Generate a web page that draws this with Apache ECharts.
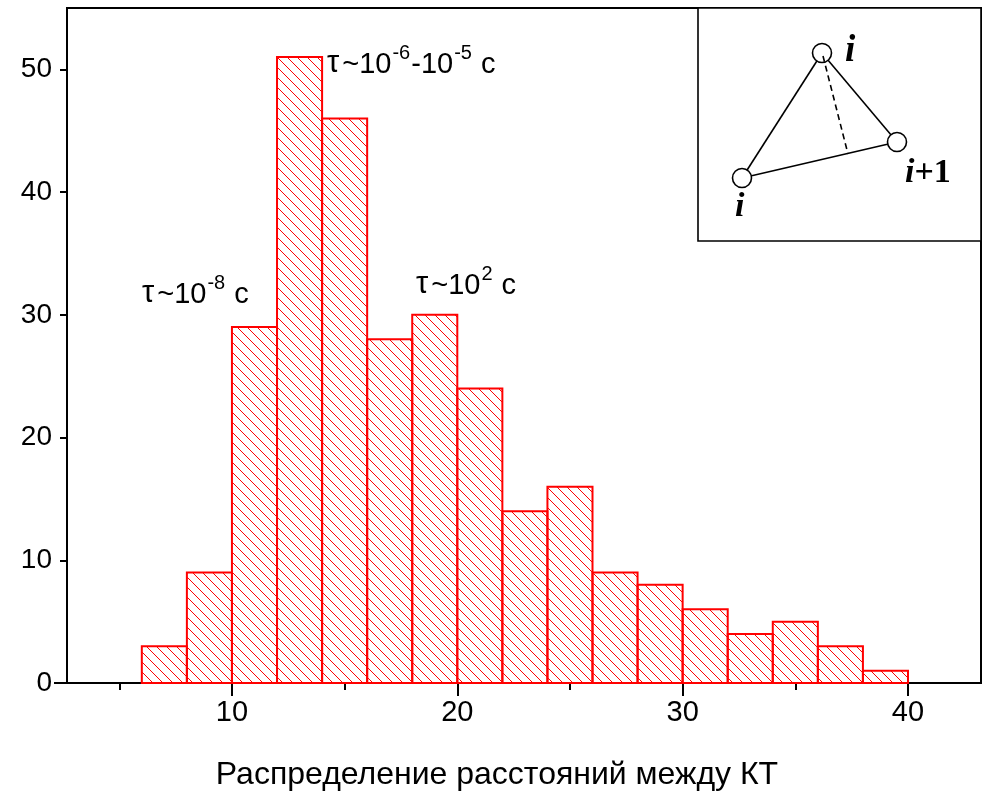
<!DOCTYPE html>
<html>
<head>
<meta charset="utf-8">
<script src="https://cdn.jsdelivr.net/npm/echarts@6/dist/echarts.min.js"></script>
<style>
  html, body { margin: 0; padding: 0; background: #fff; }
  #chart { width: 983px; height: 796px; }
</style>
</head>
<body>
<div id="chart"></div>
<script>
// Histogram bins: lower edge, upper edge, count
const binStarts = [6, 8, 10, 12, 14, 16, 18, 20, 22, 24, 26, 28, 30, 32, 34, 36, 38];
const binEnds   = [8, 10, 12, 14, 16, 18, 20, 22, 24, 26, 28, 30, 32, 34, 36, 38, 40];
const counts    = [3, 9, 29, 51, 46, 28, 30, 24, 14, 16, 9, 8, 6, 4, 5, 3, 1];

const xMajorTicks = [10, 20, 30, 40];
const xMinorTicks = [5, 15, 25, 35];
const yTicks = [0, 10, 20, 30, 40, 50];
const xAxisTitle = 'Распределение расстояний между КТ';

const FONT = '"Liberation Sans", Arial, sans-serif';
const SERIF = '"Liberation Serif", "Times New Roman", serif';
const RED = '#ff0000';

// Diagonal "\" hatch tile used to fill the bars
function makeHatch(step) {
  const c = document.createElement('canvas');
  c.width = step; c.height = step;
  const g = c.getContext('2d');
  g.strokeStyle = RED;
  g.lineWidth = 1;
  for (const off of [-step, 0, step]) {
    g.beginPath();
    g.moveTo(off, 0);
    g.lineTo(off + step, step);
    g.stroke();
  }
  return c;
}
const hatch = { image: makeHatch(10), repeat: 'repeat' };

const binData = binStarts.map((s, i) => [s, binEnds[i], counts[i]]);

const chart = echarts.init(document.getElementById('chart'), null, { renderer: 'canvas' });

const X_MIN = 2.68, X_MAX = 43.24;

const rich = {
  t: { fontFamily: FONT, fontSize: 31, color: '#000', lineHeight: 36, verticalAlign: 'bottom', padding: [0, 3, 0, 0] },
  a: { fontFamily: FONT, fontSize: 29, color: '#000', lineHeight: 36, verticalAlign: 'bottom' },
  s: { fontFamily: FONT, fontSize: 20, color: '#000', lineHeight: 36, verticalAlign: 'top', padding: [0, 1, 15, 1] }
};

function annotation(left, top, text) {
  return { type: 'text', left: left, top: top, z: 10, style: { text: text, rich: rich, fill: '#000' } };
}

const stroke = { stroke: '#000', lineWidth: 1.6, fill: null };
const circleStyle = { fill: '#fff', stroke: '#000', lineWidth: 1.6 };
const italicBig = 'italic bold 37px ' + SERIF;
const labelRich = {
  it: { fontFamily: SERIF, fontStyle: 'italic', fontWeight: 'bold', fontSize: 34, color: '#000' },
  up: { fontFamily: SERIF, fontWeight: 'bold', fontSize: 34, color: '#000' }
};

chart.setOption({
  animation: false,
  backgroundColor: '#fff',
  grid: {
    left: 67, right: 2, top: 8, bottom: 113,
    outerBoundsMode: 'none', containLabel: false,
    show: true, borderColor: '#000', borderWidth: 2, backgroundColor: 'transparent'
  },
  xAxis: [
    {
      type: 'value', min: X_MIN, max: X_MAX,
      axisLine: { show: true, onZero: false, lineStyle: { color: '#000', width: 2 } },
      axisTick: { show: true, inside: false, length: 13, customValues: xMajorTicks, lineStyle: { color: '#000', width: 2 } },
      axisLabel: { show: true, customValues: xMajorTicks, margin: 15, fontFamily: FONT, fontSize: 29, color: '#000' },
      splitLine: { show: false },
      name: xAxisTitle, nameLocation: 'middle', nameGap: 76,
      nameTextStyle: { fontFamily: FONT, fontSize: 32, color: '#000', padding: [0, 54, 0, 0] }
    },
    {
      type: 'value', min: X_MIN, max: X_MAX, position: 'bottom',
      axisLine: { show: false },
      axisTick: { show: true, length: 7, customValues: xMinorTicks, lineStyle: { color: '#000', width: 2 } },
      axisLabel: { show: false },
      splitLine: { show: false }
    }
  ],
  yAxis: {
    type: 'value', min: 0, max: 55,
    axisLine: { show: true, lineStyle: { color: '#000', width: 2 } },
    axisTick: { show: true, length: 7, customValues: yTicks, lineStyle: { color: '#000', width: 2 } },
    axisLabel: { margin: 15, customValues: yTicks, fontFamily: FONT, fontSize: 28, color: '#000' },
    splitLine: { show: false }
  },
  series: [{
    type: 'custom',
    xAxisIndex: 0,
    data: binData,
    encode: { x: [0, 1], y: 2 },
    renderItem: function (params, api) {
      const p0 = api.coord([api.value(0), api.value(2)]);
      const p1 = api.coord([api.value(1), 0]);
      return {
        type: 'rect',
        shape: { x: p0[0], y: p0[1], width: p1[0] - p0[0], height: p1[1] - p0[1] },
        style: { fill: hatch, stroke: RED, lineWidth: 2 }
      };
    }
  }],
  graphic: [
    // short extension of the x axis to the left of the y axis
    { type: 'line', shape: { x1: 54, y1: 683, x2: 67, y2: 683 }, style: { stroke: '#000', lineWidth: 2 } },

    annotation(142, 273, '{t|τ}{a|~10}{s|-8}{a| c}'),
    annotation(327, 43, '{t|τ}{a|~10}{s|-6}{a|-10}{s|-5}{a| c}'),
    annotation(416, 264, '{t|τ}{a|~10}{s|2}{a| c}'),

    // inset: triangle of three neighbouring points
    { type: 'group', z: 20, children: [
      { type: 'rect', shape: { x: 698, y: 8, width: 283, height: 233 }, style: { fill: '#fff', stroke: '#000', lineWidth: 1.6 } },
      { type: 'line', shape: { x1: 742, y1: 178, x2: 822, y2: 53 }, style: stroke },
      { type: 'line', shape: { x1: 822, y1: 53, x2: 897, y2: 142 }, style: stroke },
      { type: 'line', shape: { x1: 742, y1: 178, x2: 897, y2: 142 }, style: stroke },
      { type: 'circle', shape: { cx: 822, cy: 53, r: 9.5 }, style: circleStyle },
      { type: 'circle', shape: { cx: 742, cy: 178, r: 9.5 }, style: circleStyle },
      { type: 'circle', shape: { cx: 897, cy: 142, r: 9.5 }, style: circleStyle },
      { type: 'line', shape: { x1: 823, y1: 56, x2: 848, y2: 154 }, style: { stroke: '#000', lineWidth: 1.6, lineDash: [6, 4] } },
      { type: 'text', x: 845, y: 70, style: { text: 'i', font: italicBig, fill: '#000', textVerticalAlign: 'bottom' } },
      { type: 'text', x: 905, y: 190, style: { text: '{it|i}{up|+1}', rich: labelRich, fill: '#000', textVerticalAlign: 'bottom' } },
      { type: 'text', x: 735, y: 224, style: { text: '{it|i}', rich: labelRich, fill: '#000', textVerticalAlign: 'bottom' } }
    ]}
  ]
});
</script>
</body>
</html>
